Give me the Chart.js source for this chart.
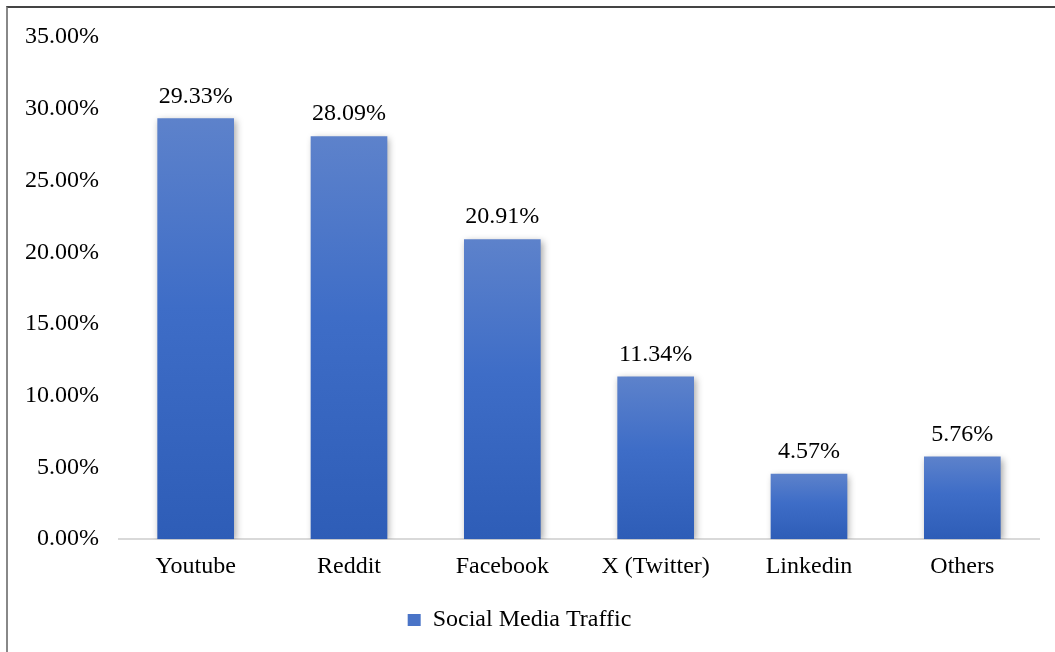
<!DOCTYPE html>
<html>
<head>
<meta charset="utf-8">
<title>Social Media Traffic</title>
<script src="https://cdn.jsdelivr.net/npm/chart.js@4.4.1/dist/chart.umd.min.js"></script>
<style>
  html, body { margin: 0; padding: 0; background: #fff; }
  body { width: 1055px; height: 652px; position: relative; overflow: hidden; }
  #wrap { position: absolute; left: 0; top: 0; width: 1055px; height: 652px; }
  #frame {
    position: absolute; left: 6px; top: 6px; right: 0; bottom: 0;
    border-top: 2px solid #444; border-left: 2px solid #888;
    pointer-events: none;
  }
</style>
</head>
<body>
<div id="wrap"><canvas id="traffic-chart"></canvas></div>
<div id="frame"></div>
<script>
/* =====================================
   DATA
======================================== */

const categories = ["Youtube", "Reddit", "Facebook", "X (Twitter)", "Linkedin", "Others"];
const trafficValues = [29.33, 28.09, 20.91, 11.34, 4.57, 5.76];
const seriesName = "Social Media Traffic";
const yTicks = [0, 5, 10, 15, 20, 25, 30, 35];

const serif = "'Liberation Serif', 'Times New Roman', serif";
const fontSize = 24;

/* =====================================
   PLUGINS
======================================== */

// soft drop shadow under the bars
const barShadow = {
   id: "barShadow",
   beforeDatasetsDraw(chart) {
      const ctx = chart.ctx;
      ctx.save();
      ctx.shadowColor = "rgba(0, 0, 0, 0.35)";
      ctx.shadowBlur = 7;
      ctx.shadowOffsetX = 2;
      ctx.shadowOffsetY = 2;
   },
   afterDatasetsDraw(chart) {
      chart.ctx.restore();
   }
};

// value labels above each bar
const valueLabels = {
   id: "valueLabels",
   afterDatasetsDraw(chart) {
      const ctx = chart.ctx;
      const meta = chart.getDatasetMeta(0);
      ctx.save();
      ctx.font = fontSize + "px " + serif;
      ctx.fillStyle = "#000";
      ctx.textAlign = "center";
      ctx.textBaseline = "bottom";
      meta.data.forEach((bar, i) => {
         ctx.fillText(trafficValues[i].toFixed(2) + "%", bar.x, bar.y - 10);
      });
      ctx.restore();
   }
};

/* =====================================
   CHART
======================================== */

function barGradient(context) {
   const chart = context.chart;
   const yScale = chart.scales.y;
   if (!yScale || context.dataIndex === undefined) return "#3D6CC6";
   const top = yScale.getPixelForValue(trafficValues[context.dataIndex]);
   const bottom = yScale.getPixelForValue(0);
   const g = chart.ctx.createLinearGradient(0, top, 0, bottom);
   g.addColorStop(0, "#5D82CB");
   g.addColorStop(0.45, "#3E6DC7");
   g.addColorStop(1, "#2E5DB7");
   return g;
}

const trafficData = {
   labels: categories,
   datasets: [{
      label: seriesName,
      data: trafficValues,
      backgroundColor: barGradient,
      borderWidth: 0,
      barPercentage: 0.5,
      categoryPercentage: 1.0
   }]
};

const trafficOptions = {
   responsive: true,
   maintainAspectRatio: false,
   animation: false,
   layout: {
      padding: { left: 0, right: 16, top: 37, bottom: 10 }
   },
   scales: {
      y: {
         min: 0,
         max: 35,
         afterBuildTicks(axis) {
            axis.ticks = yTicks.map(v => ({ value: v }));
         },
         afterFit(axis) {
            axis.width = 119;
         },
         grid: { display: false, drawTicks: false },
         border: { display: false },
         ticks: {
            padding: 20,
            color: "#000",
            font: { family: serif, size: fontSize },
            callback: v => v.toFixed(2) + "%"
         }
      },
      x: {
         grid: { display: false, drawTicks: false },
         border: { display: true, color: "#d9d9d9", width: 2 },
         ticks: {
            padding: 13,
            color: "#000",
            font: { family: serif, size: fontSize }
         }
      }
   },
   plugins: {
      legend: {
         position: "bottom",
         labels: {
            color: "#000",
            font: { family: serif, size: fontSize },
            boxWidth: 13,
            boxHeight: 12,
            padding: 14,
            generateLabels() {
               return [{
                  text: seriesName,
                  fillStyle: "#4A74C7",
                  strokeStyle: "#4A74C7",
                  lineWidth: 0,
                  hidden: false,
                  datasetIndex: 0
               }];
            }
         }
      },
      tooltip: { enabled: false }
   }
};

const trafficCanvas = document.getElementById("traffic-chart");

let trafficChart = new Chart(trafficCanvas, {
   type: "bar",
   data: trafficData,
   options: trafficOptions,
   plugins: [barShadow, valueLabels]
});
</script>
</body>
</html>
